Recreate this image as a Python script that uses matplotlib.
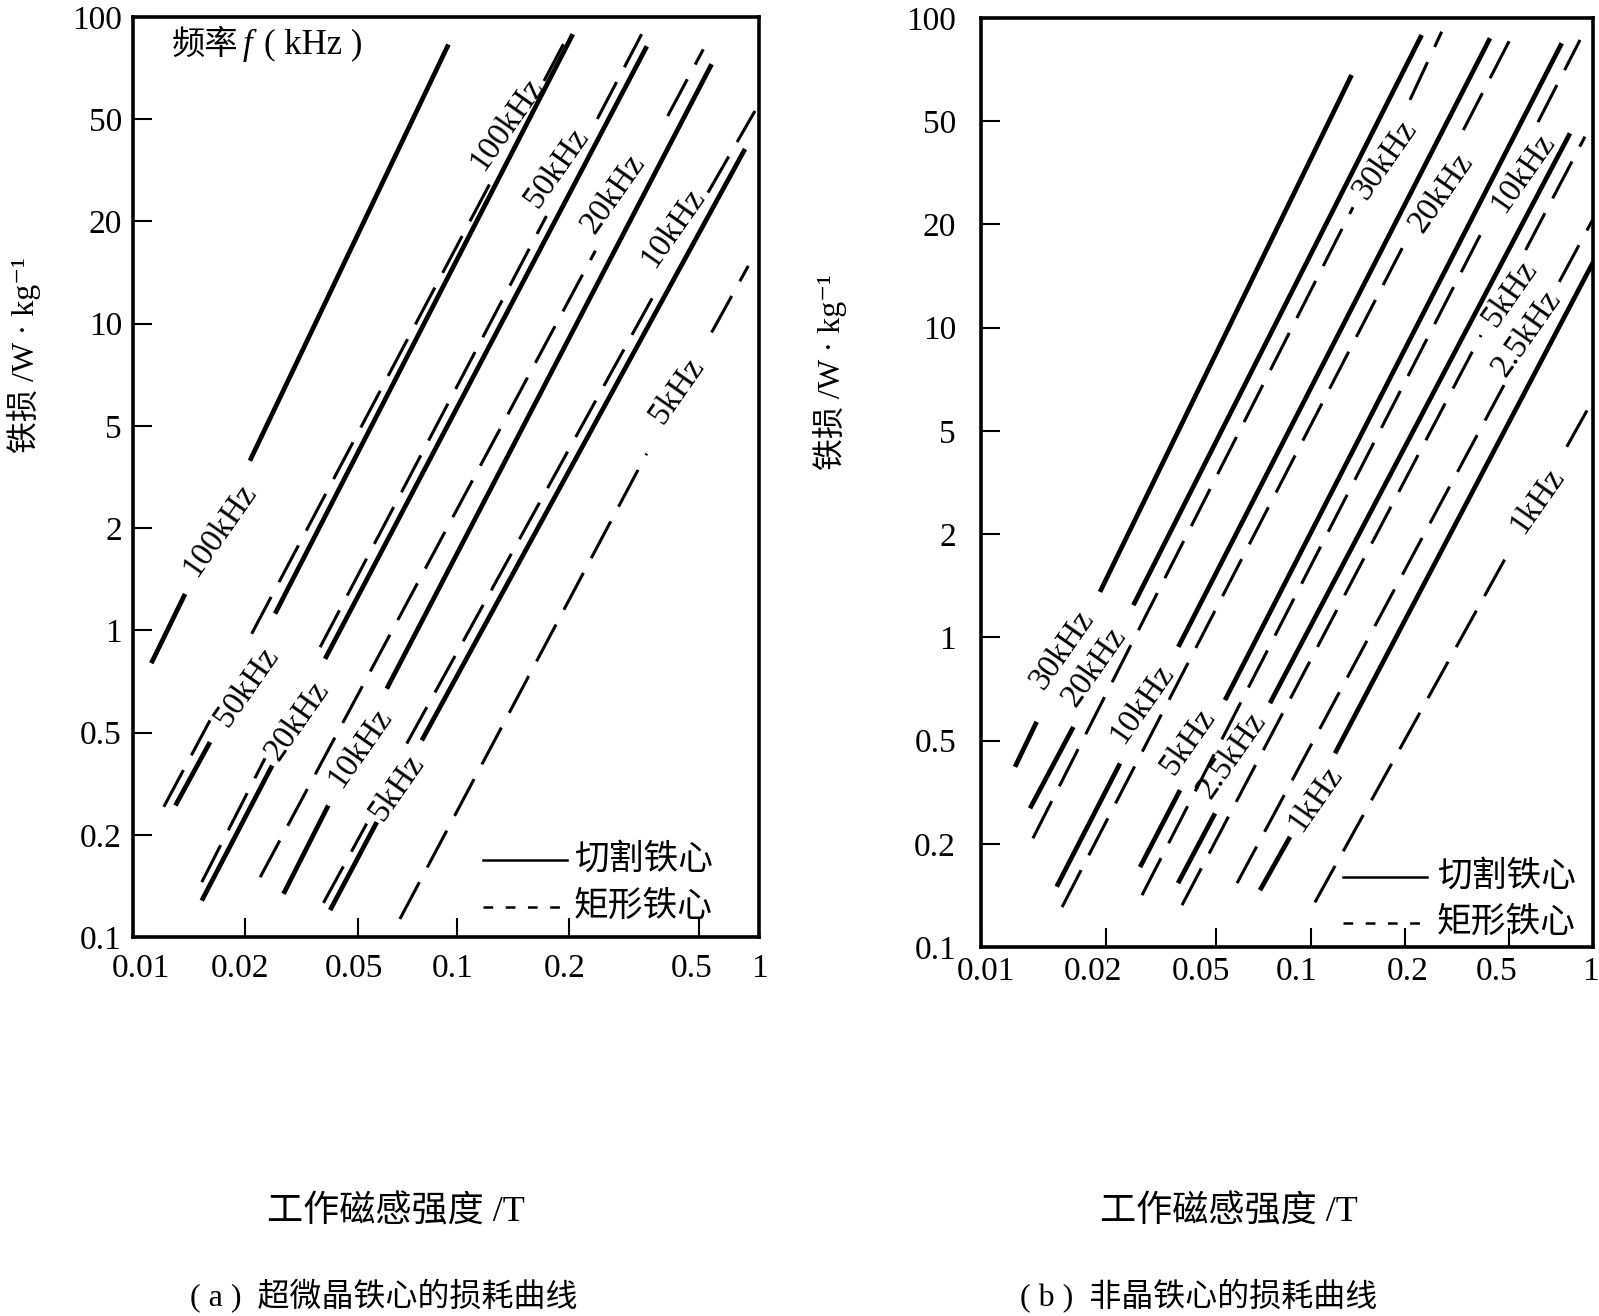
import numpy as np
import matplotlib
matplotlib.use("Agg")
import matplotlib.pyplot as plt
from matplotlib.transforms import ScaledTranslation

plt.rcParams['font.family'] = ['Liberation Serif', 'Noto Sans CJK SC', 'DejaVu Sans']
plt.rcParams['lines.scale_dashes'] = False
plt.rcParams['axes.unicode_minus'] = False

# ---------------- axes definitions (printed, hand-drawn tick spacing) ----------------
x_ticks = [0.01, 0.02, 0.05, 0.1, 0.2, 0.5, 1]
x_tick_labels = ['0.01', '0.02', '0.05', '0.1', '0.2', '0.5', '1']
y_ticks = [0.1, 0.2, 0.5, 1, 2, 5, 10, 20, 50, 100]
y_tick_labels = ['0.1', '0.2', '0.5', '1', '2', '5', '10', '20', '50', '100']
# where each printed tick sits along the axis (fraction of axis length)
x_tick_pos_a = [0.0, 0.179, 0.360, 0.518, 0.697, 0.904, 1.0]
x_tick_pos_b = [0.0, 0.204, 0.384, 0.540, 0.693, 0.862, 1.0]
y_tick_pos = [i / 9 for i in range(10)]
# small horizontal offsets of the printed tick labels relative to their ticks (px)
x_label_shift_a = [8, -5, -4, -5, -5, -7, 0]
x_label_shift_b = [5, -13, -15, -15, 3, -12, -3]

# ---------------- (a) nanocrystalline cores: B [T] vs loss [W/kg] ----------------
# each curve: list of segments (B values, loss values); breaks are where labels sit
a_cut_100k = [([0.0112, 0.0138], [0.80, 1.28]), ([0.0208, 0.094], [3.66, 83.0])]
a_cut_50k = [([0.0130, 0.0161], [0.260, 0.459]), ([0.0255, 0.205], [1.12, 89.0])]
a_cut_20k = [([0.0153, 0.0249], [0.128, 0.372]), ([0.0382, 0.346], [0.824, 82.0])]
a_cut_10k = [([0.0273, 0.0392], [0.134, 0.260]), ([0.0610, 0.579], [0.673, 72.6])]
a_cut_5k = [([0.0398, 0.0569], [0.120, 0.224]), ([0.0780, 0.851], [0.466, 38.3])]

a_rect_100k = [([0.0121, 0.0161], [0.257, 0.543]), ([0.0211, 0.1255], [0.977, 30.1]),
               ([0.171, 0.198], [64.8, 87.9])]
a_rect_50k = [([0.0153, 0.0235], [0.145, 0.397]), ([0.0367, 0.1736], [0.892, 21.0]),
              ([0.2438, 0.3335], [50.1, 89.0])]
a_rect_20k = [([0.0226, 0.2405], [0.150, 16.4]), ([0.401, 0.526], [51.1, 80.3])]
a_rect_10k = [([0.0377, 0.0530], [0.126, 0.221]), ([0.0702, 0.3665], [0.453, 12.3]),
              ([0.555, 0.955], [25.9, 52.9])]
a_rect_5k = [([0.0669, 0.3456], [0.113, 3.90]), ([0.579, 0.884], [9.42, 14.8])]

a_labels = ['100kHz', '50kHz', '20kHz', '10kHz', '5kHz']
a_lab_low_B = [0.0171, 0.0203, 0.0304, 0.0506, 0.0654]
a_lab_low_P = [1.97, 0.680, 0.543, 0.434, 0.306]
a_lab_up_B = [0.136, 0.1853, 0.2723, 0.4163, 0.427]
a_lab_up_P = [47.9, 32.3, 25.6, 19.15, 6.35]

# ---------------- (b) amorphous cores ----------------
b_cut_30k = [([0.01208, 0.01362], [0.396, 0.567]), ([0.01936, 0.1346], [1.357, 68.2])]
b_cut_20k = [([0.01313, 0.0167], [0.274, 0.548]), ([0.02514, 0.2316], [1.241, 89.2])]
b_cut_10k = [([0.01522, 0.0225], [0.150, 0.408]), ([0.03654, 0.4242], [0.938, 87.3])]
b_cut_5k = [([0.02657, 0.03707], [0.171, 0.322]), ([0.05338, 0.7736], [0.656, 84.4])]
b_cut_2k5 = [([0.03645, 0.04958], [0.1535, 0.262]), ([0.07399, 0.828], [0.643, 44.9])]
b_cut_1k = [([0.0688, 0.0856], [0.1464, 0.2127]), ([0.119, 1.0], [0.446, 15.5])]

b_rect_30k = [([0.01334, 0.136], [0.210, 23.3]), ([0.2088, 0.2765], [57.7, 91.2])]
b_rect_20k = [([0.01568, 0.2069], [0.1307, 18.63]), ([0.335, 0.527], [46.2, 92.3])]
b_rect_10k = [([0.02702, 0.4124], [0.1416, 20.4]), ([0.6366, 0.899], [49.6, 86.3])]
b_rect_5k = [([0.03768, 0.3917], [0.1324, 9.51]), ([0.5752, 0.9363], [16.84, 43.6])]
b_rect_2k5 = [([0.05824, 0.4803], [0.1535, 6.80]), ([0.758, 1.0], [13.6, 20.97])]
b_rect_1k = [([0.1026, 0.5133], [0.135, 1.837]), ([0.806, 1.0], [4.34, 6.16])]

b_labels = ['30kHz', '20kHz', '10kHz', '5kHz', '2.5kHz', '1kHz']
b_lab_low_B = [0.01565, 0.01873, 0.02695, 0.0397, 0.056, 0.1026]
b_lab_low_P = [0.918, 0.820, 0.641, 0.494, 0.4395, 0.299]
b_lab_up_B = [0.1723, 0.2765, 0.5646, 0.506, 0.5805, 0.63]
b_lab_up_P = [35.4, 26.4, 31.5, 12.6, 9.63, 2.70]


def piecewise_log(vals, pos):
    lv = np.log10(np.asarray(vals, float))
    p = np.asarray(pos, float)

    def fwd(v):
        v = np.asarray(v, float)
        with np.errstate(divide='ignore', invalid='ignore'):
            lg = np.log10(np.where(v > 0, v, np.nan))
        out = np.interp(lg, lv, p)
        out = np.where(lg < lv[0], p[0] + (lg - lv[0]) * (p[1] - p[0]) / (lv[1] - lv[0]), out)
        out = np.where(lg > lv[-1], p[-1] + (lg - lv[-1]) * (p[-1] - p[-2]) / (lv[-1] - lv[-2]), out)
        return out

    def inv(u):
        u = np.asarray(u, float)
        lg = np.interp(u, p, lv)
        lg = np.where(u < p[0], lv[0] + (u - p[0]) * (lv[1] - lv[0]) / (p[1] - p[0]), lg)
        lg = np.where(u > p[-1], lv[-1] + (u - p[-1]) * (lv[-1] - lv[-2]) / (p[-1] - p[-2]), lg)
        return 10 ** lg

    return fwd, inv


W, H = 1599, 1316
fig = plt.figure(figsize=(W / 100, H / 100), dpi=100)
fig.patch.set_facecolor('white')


def setup(ax, xpos, xpad, ypad, shifts):
    ax.set_xscale('function', functions=piecewise_log(x_ticks, xpos))
    ax.set_yscale('function', functions=piecewise_log(y_ticks, y_tick_pos))
    ax.set_xlim(0.01, 1)
    ax.set_ylim(0.1, 100)
    ax.set_xticks(x_ticks)
    ax.set_xticklabels(x_tick_labels)
    ax.set_yticks(y_ticks)
    ax.set_yticklabels(y_tick_labels)
    ax.minorticks_off()
    ax.tick_params(axis='both', direction='in', length=14, width=1.5, labelsize=24,
                   colors='black')
    ax.tick_params(axis='x', pad=xpad)
    ax.tick_params(axis='y', pad=ypad)
    for lab, dx in zip(ax.get_xticklabels(), shifts):
        lab.set_transform(lab.get_transform() + ScaledTranslation(dx / 100, 0, fig.dpi_scale_trans))
    for s in ax.spines.values():
        s.set_linewidth(2.6)
        s.set_color('black')


def draw(ax, cuts, rects):
    for curve in cuts:
        for B, P in curve:
            ax.plot(B, P, color='black', lw=3.4, solid_capstyle='butt')
    for curve in rects:
        for B, P in curve:
            ax.plot(B, P, color='black', lw=2.2, dashes=(30, 12), dash_capstyle='butt')


def labels(ax, names, B, P):
    for n, b, p in zip(names, B, P):
        ax.text(b, p, n, rotation=55, rotation_mode='anchor', ha='center', va='center',
                fontsize=24, color='black')


def legend(ax, x0, x1, y_solid, y_dash, xt):
    ax.plot([x0, x1], [y_solid, y_solid], transform=ax.transAxes, color='black', lw=1.8,
            clip_on=False)
    ax.plot([x0, x1], [y_dash, y_dash], transform=ax.transAxes, color='black', lw=1.8,
            dashes=(7, 9), clip_on=False)
    ax.text(xt, y_solid, '切割铁心', transform=ax.transAxes, ha='left', va='center', fontsize=25)
    ax.text(xt, y_dash, '矩形铁心', transform=ax.transAxes, ha='left', va='center', fontsize=25)


# ---------------- panel (a) ----------------
ax_a = fig.add_axes([133 / W, (H - 937) / H, 626 / W, 920 / H])
setup(ax_a, x_tick_pos_a, 12, 8, x_label_shift_a)
draw(ax_a, [a_cut_100k, a_cut_50k, a_cut_20k, a_cut_10k, a_cut_5k],
     [a_rect_100k, a_rect_50k, a_rect_20k, a_rect_10k, a_rect_5k])
labels(ax_a, a_labels, a_lab_low_B, a_lab_low_P)
labels(ax_a, a_labels, a_lab_up_B, a_lab_up_P)
legend(ax_a, 0.559, 0.693, 0.0835, 0.0325, 0.704)

fig.text(172 / W, 1 - 45 / H, '频率', ha='left', va='center', fontsize=24)
fig.text(243 / W, 1 - 45 / H, 'f', ha='left', va='center', fontsize=25, style='italic')
fig.text(264 / W, 1 - 45 / H, '( kHz )', ha='left', va='center', fontsize=25)

# ---------------- panel (b) ----------------
ax_b = fig.add_axes([981 / W, (H - 947) / H, 612 / W, 929 / H])
setup(ax_b, x_tick_pos_b, 7, 18, x_label_shift_b)
draw(ax_b, [b_cut_30k, b_cut_20k, b_cut_10k, b_cut_5k, b_cut_2k5, b_cut_1k],
     [b_rect_30k, b_rect_20k, b_rect_10k, b_rect_5k, b_rect_2k5, b_rect_1k])
labels(ax_b, b_labels, b_lab_low_B, b_lab_low_P)
labels(ax_b, b_labels, b_lab_up_B, b_lab_up_P)
legend(ax_b, 0.5915, 0.7288, 0.0753, 0.0258, 0.745)

# ---------------- axis titles & captions ----------------
fig.text(24 / W, 1 - 355 / H, '铁损 /W · kg⁻¹', rotation=90, ha='center', va='center', fontsize=23)
fig.text(830 / W, 1 - 372 / H, '铁损 /W · kg⁻¹', rotation=90, ha='center', va='center', fontsize=23)
fig.text(396 / W, 1 - 1212 / H, '工作磁感强度 /T', ha='center', va='center', fontsize=26)
fig.text(1229 / W, 1 - 1212 / H, '工作磁感强度 /T', ha='center', va='center', fontsize=26)
fig.text(190 / W, 1 - 1296 / H, '( a )  超微晶铁心的损耗曲线', ha='left', va='center', fontsize=23)
fig.text(1020 / W, 1 - 1296 / H, '( b )  非晶铁心的损耗曲线', ha='left', va='center', fontsize=23)

fig.savefig('out.png', dpi=100, facecolor='white')
